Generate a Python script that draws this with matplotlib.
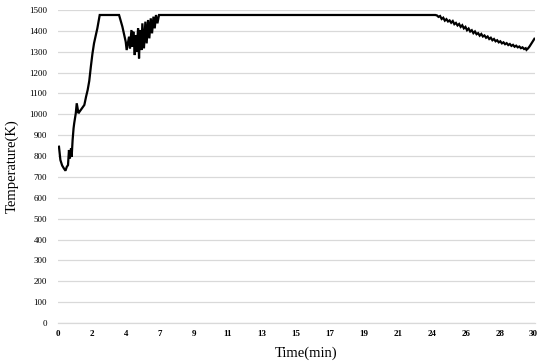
import matplotlib
matplotlib.use("Agg")
import matplotlib.pyplot as plt

# Traced data: time (min) and temperature (K)
time_min = [0.06, 0.15, 0.26, 0.37, 0.47, 0.55, 0.63, 0.69, 0.75, 0.82, 0.86, 0.92, 0.98,
            1.02, 1.12, 1.18, 1.29, 1.35, 1.51, 1.66, 1.77, 1.87, 1.97, 2.07, 2.17, 2.27, 2.38,
            2.48, 2.63,
            3.85, 4.06, 4.27, 4.33, 4.48, 4.54, 4.63, 4.69, 4.75, 4.84, 4.90, 4.96, 5.05, 5.11,
            5.17, 5.26, 5.32, 5.42, 5.51, 5.59, 5.68, 5.76, 5.85, 5.93, 6.02, 6.10, 6.18, 6.27,
            6.37,
            23.8, 23.9, 24.0, 24.1, 24.2, 24.3, 24.4, 24.5, 24.6, 24.7, 24.8, 24.9, 25.0, 25.1,
            25.2, 25.3, 25.4, 25.5, 25.6, 25.7, 25.8, 25.9, 26.0, 26.1, 26.2, 26.3, 26.4, 26.5,
            26.6, 26.7, 26.8, 26.9, 27.0, 27.1, 27.2, 27.3, 27.4, 27.5, 27.6, 27.7, 27.8, 27.9,
            28.0, 28.1, 28.2, 28.3, 28.4, 28.5, 28.6, 28.7, 28.8, 28.9, 29.0, 29.1, 29.2, 29.3,
            29.4, 29.5, 29.55, 29.65, 29.75, 29.85, 29.95, 30.05]
temp_k = [845, 781, 755, 741, 730, 748, 757, 829, 789, 837, 797, 877, 933,
          957, 1005, 1053, 1005, 1012, 1029, 1045, 1085, 1117, 1160, 1228, 1290, 1340, 1378,
          1412, 1476,
          1476, 1420, 1348, 1308, 1372, 1316, 1404, 1324, 1396, 1284, 1380, 1300, 1412, 1268,
          1404, 1308, 1436, 1316, 1444, 1340, 1452, 1364, 1460, 1388, 1468, 1412, 1476, 1436,
          1476,
          1476, 1474, 1467, 1471, 1457, 1463, 1449, 1456, 1445, 1450, 1439, 1447, 1432, 1438,
          1426, 1433, 1419, 1427, 1412, 1419, 1403, 1411, 1397, 1403, 1389, 1397, 1384, 1389,
          1377, 1385, 1373, 1378, 1367, 1373, 1361, 1367, 1355, 1361, 1350, 1355, 1345, 1350,
          1340, 1345, 1336, 1341, 1332, 1337, 1328, 1333, 1324, 1329, 1321, 1325, 1317, 1321,
          1313, 1317, 1309, 1316, 1326, 1338, 1350, 1362]

xtick_pos = [i * 30 / 14 for i in range(15)]
xtick_labels = ["0", "2", "4", "7", "9", "11", "13", "15", "17", "19", "21", "24", "26", "28", "30"]
ytick_vals = list(range(0, 1501, 100))

plt.rcParams['font.family'] = ['Liberation Serif', 'DejaVu Serif']

fig = plt.figure(figsize=(5.5, 3.63), dpi=100)
ax = fig.add_axes([0.1055, 0.110, 0.867, 0.8625])

ax.plot(time_min, temp_k, color="black", linewidth=1.6, solid_joinstyle="miter")

ax.set_xlim(0, 30.08)
ax.set_ylim(0, 1500)
ax.set_yticks(ytick_vals)
ax.set_yticklabels([str(v) for v in ytick_vals], fontsize=6.5)
ax.set_xticks(xtick_pos)
ax.set_xticklabels(xtick_labels, fontsize=6.5, fontweight="bold")
ax.tick_params(axis="both", length=0)
ax.tick_params(axis="y", pad=8)
ax.tick_params(axis="x", pad=5)

ax.grid(axis="y", color="#d9d9d9", linewidth=0.9)
ax.set_axisbelow(True)
for s in ["top", "right", "left"]:
    ax.spines[s].set_visible(False)
ax.spines["bottom"].set_color("#d9d9d9")
ax.spines["bottom"].set_linewidth(0.9)

ax.set_ylabel("Temperature(K)", fontsize=10.5)
ax.yaxis.set_label_coords(-0.083, 0.5)
ax.set_xlabel("Time(min)", fontsize=10.5)
ax.xaxis.set_label_coords(0.52, -0.075)

fig.savefig("out.png", dpi=100)
